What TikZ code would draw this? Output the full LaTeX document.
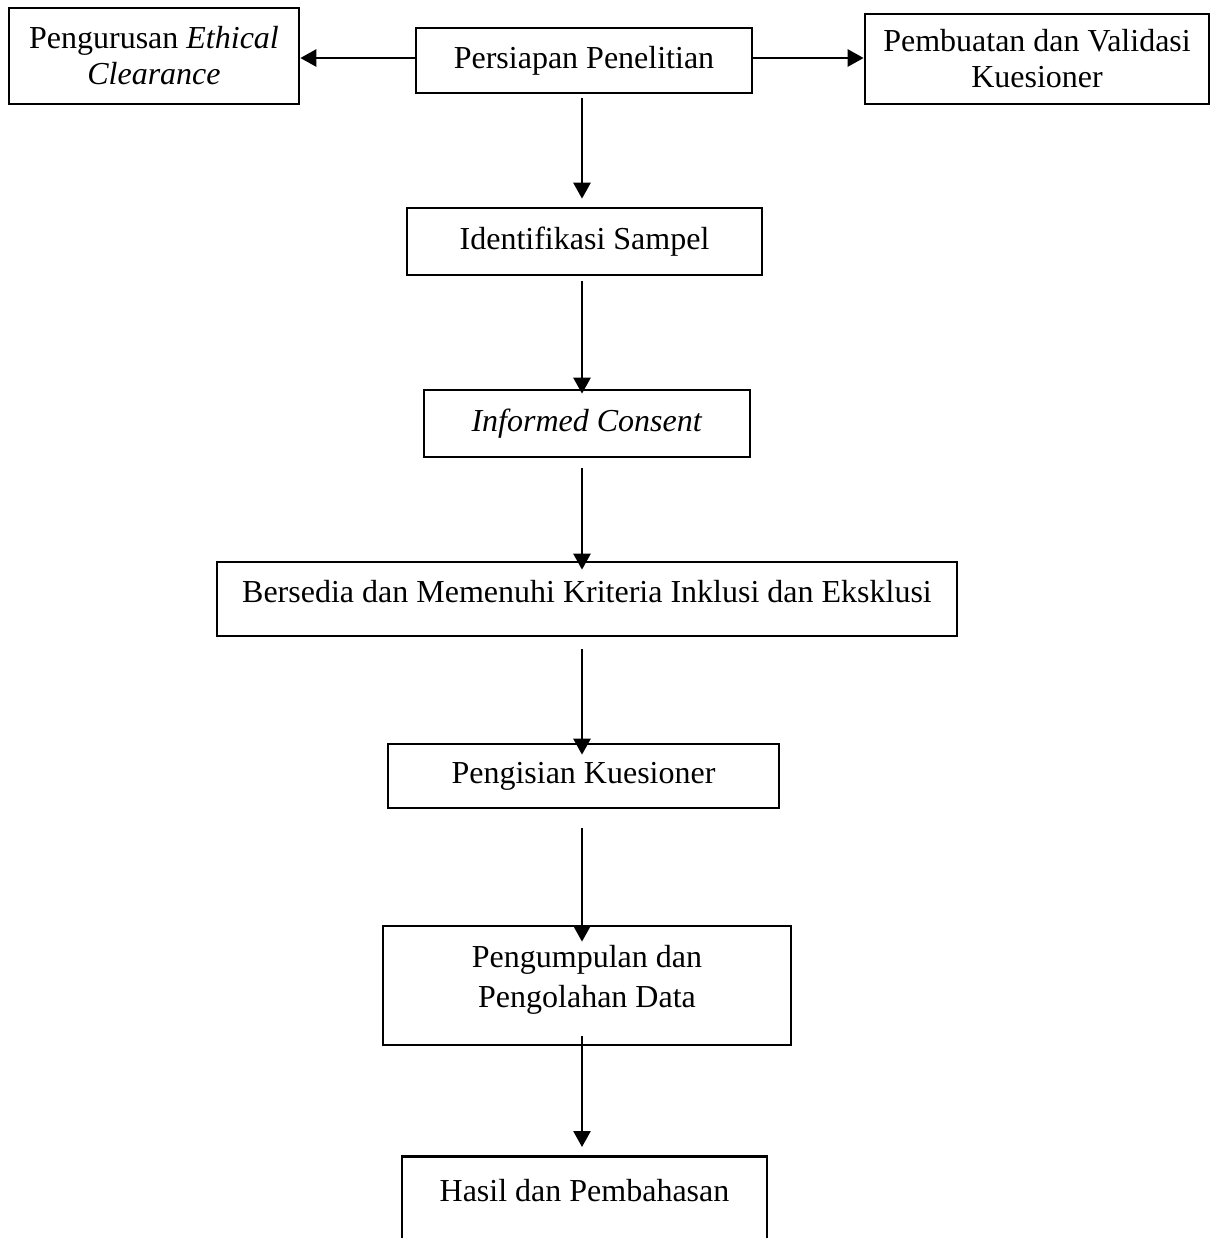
\documentclass[tikz,border=0pt]{standalone}
\usepackage{fontspec}
\setmainfont{Liberation Serif}
\usetikzlibrary{positioning,arrows.meta,calc}

\begin{document}
\begin{tikzpicture}[x=0.5pt, y=-0.5pt,
  stepbox/.style={draw=black, line width=1.35pt, fill=white, inner sep=2pt, align=center, font=\fontsize{16}{18}\selectfont},
  flow/.style={-{Triangle[length=8pt, width=8.5pt]}, line width=1.35pt},
]
\clip (0,0) rectangle (1210,1238);

% ===================================================================
% TOP ROW
% ===================================================================
\node[stepbox, minimum width=168pt, minimum height=32.5pt] (persiapan) at (584,60.5) {Persiapan Penelitian};
\node[stepbox, minimum width=145pt, minimum height=48pt] (ethical) at (154,56) {Pengurusan \textit{Ethical}\\\textit{Clearance}};
\node[stepbox, minimum width=172pt, minimum height=45pt] (kuesioner) at (1037,59) {Pembuatan dan Validasi\\Kuesioner};

\draw[flow] ($(persiapan.west)+(0,-2.5)$) -- ($(persiapan.west -| ethical.east)+(0,-2.5)$);
\draw[flow] ($(persiapan.east)+(0,-2.5)$) -- ($(persiapan.east -| kuesioner.west)+(0,-2.5)$);

% ===================================================================
% MAIN FLOW
% ===================================================================
\coordinate (axis) at (582,0);

\node[stepbox, minimum width=177.5pt, minimum height=33.5pt] (sampel) at (584.5,241.5) {Identifikasi Sampel};
\node[stepbox, minimum width=163pt, minimum height=33.5pt] (consent) at (587,423.5) {\textit{Informed Consent}};
\node[stepbox, minimum width=370pt, minimum height=37pt, text depth=8pt] (kriteria) at (587,599) {Bersedia dan Memenuhi Kriteria Inklusi dan Eksklusi};
\node[stepbox, minimum width=195.5pt, minimum height=32pt] (pengisian) at (583.5,776) {Pengisian Kuesioner};
\node[stepbox, minimum width=204pt, minimum height=59.5pt, text depth=9.5pt, font=\fontsize{16}{20}\selectfont] (pengolahan) at (587,985.5) {Pengumpulan dan\\Pengolahan Data};
\node[stepbox, minimum width=182.5pt, anchor=north, text height=11pt, text depth=40pt, inner ysep=11.5pt] (hasil) at (584.5,1155) {Hasil dan Pembahasan};

% Arrows down the middle
\draw[flow] ($(persiapan.south -| axis)+(0,4)$) -- ($(sampel.north -| axis)+(0,-8)$);
\draw[flow] ($(sampel.south -| axis)+(0,5)$) -- ($(consent.north -| axis)+(0,5)$);
\draw[flow] ($(consent.south -| axis)+(0,10)$) -- ($(kriteria.north -| axis)+(0,9)$);
\draw[flow] ($(kriteria.south -| axis)+(0,12)$) -- ($(pengisian.north -| axis)+(0,12)$);
\draw[flow] ($(pengisian.south -| axis)+(0,19)$) -- ($(pengolahan.north -| axis)+(0,17)$);
\draw[flow] ($(pengolahan.south -| axis)+(0,-10)$) -- ($(hasil.north -| axis)+(0,-8)$);

\end{tikzpicture}
\end{document}
